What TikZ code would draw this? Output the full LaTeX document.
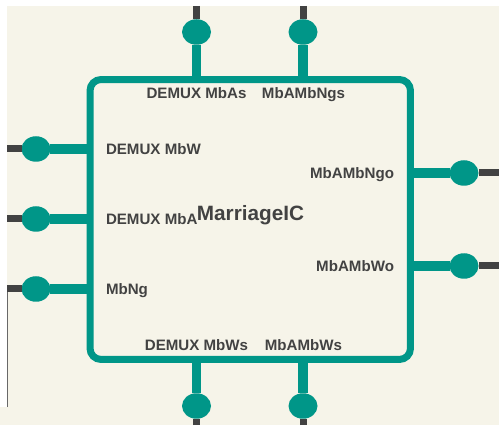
\documentclass[tikz,border=0pt]{standalone}
\usepackage{fontspec}
\setmainfont{Liberation Sans}
\usetikzlibrary{shapes.geometric}
\definecolor{paper}{HTML}{F6F4E9}
\definecolor{teal}{HTML}{009688}
\definecolor{wire}{HTML}{424242}
\tikzset{
  port/.style={ellipse, fill=teal, minimum width=0.58cm, minimum height=0.51cm, inner sep=0pt, outer sep=0pt},
  stub/.style={wire, line width=0.14cm},
  lead/.style={teal, line width=0.19cm},
  pin/.style={text=wire, font=\bfseries\fontsize{8.6}{10}\selectfont, text height=0.216cm, text depth=0pt, inner sep=0pt, outer sep=0pt}
}
\begin{document}
\begin{tikzpicture}[x=0.02cm,y=0.02cm]
\useasboundingbox (0,0) rectangle (499,425);
\fill[white] (0,0) rectangle (499,425);
\fill[paper] (7,0) rectangle (499,419);
\fill[paper] (0,0) rectangle (7,18);
\draw[wire!80, line width=0.02cm] (7,18) -- (7,136);

% the chip
\node[draw=teal, line width=0.14cm, rounded corners=0.22cm, minimum width=6.41cm, minimum height=5.6cm, inner sep=0pt] (chip) at (250.25,205.5) {};
\node[text=wire, font=\bfseries\fontsize{11.8}{14}\selectfont, text height=0.298cm, text depth=0pt, inner sep=0pt] (title) at (250.5,212) {MarriageIC};

% ports on top
\node[port] (pa) at (196.5,393) {};
\node[port] (pb) at (303,393) {};
\coordinate (pae) at (196.5,419);
\coordinate (pbe) at (303,419);
\coordinate (pac) at (196.5,345.5);
\coordinate (pbc) at (303,345.5);
\draw[stub] (pae) -- (pa);
\draw[stub] (pbe) -- (pb);
\draw[lead] (pa) -- (pac);
\draw[lead] (pb) -- (pbc);
\node[pin] (la) at (196.5,332) {DEMUX MbAs};
\node[pin] (lb) at (303.5,332) {MbAMbNgs};

% ports on the left
\node[port] (pc) at (36,276) {};
\node[port] (pd) at (36,206) {};
\node[port] (pe) at (36,136) {};
\coordinate (pce) at (7,276);
\coordinate (pde) at (7,206);
\coordinate (pee) at (7,136);
\coordinate (pcc) at (90,276);
\coordinate (pdc) at (90,206);
\coordinate (pec) at (90,136);
\draw[stub] (pce) -- (pc);
\draw[stub] (pde) -- (pd);
\draw[stub] (pee) -- (pe);
\draw[lead] (pc) -- (pcc);
\draw[lead] (pd) -- (pdc);
\draw[lead] (pe) -- (pec);
\node[pin, anchor=west] (lc) at (106,275.7) {DEMUX MbW};
\node[pin, anchor=west] (ld) at (106,205.7) {DEMUX MbA};
\node[pin, anchor=west] (le) at (106,135.5) {MbNg};

% ports on the right
\node[port] (pf) at (464,252) {};
\node[port] (pg) at (464,159) {};
\coordinate (pfe) at (499,252);
\coordinate (pge) at (499,159);
\coordinate (pfc) at (410.5,252);
\coordinate (pgc) at (410.5,159);
\draw[stub] (pfe) -- (pf);
\draw[stub] (pge) -- (pg);
\draw[lead] (pf) -- (pfc);
\draw[lead] (pg) -- (pgc);
\node[pin, anchor=east] (lf) at (394,252) {MbAMbNgo};
\node[pin, anchor=east] (lg) at (394,159) {MbAMbWo};

% ports on the bottom
\node[port] (ph) at (196.5,19) {};
\node[port] (pi) at (303,19) {};
\coordinate (phe) at (196.5,0);
\coordinate (pie) at (303,0);
\coordinate (phc) at (196.5,65.5);
\coordinate (pic) at (303,65.5);
\draw[stub] (phe) -- (ph);
\draw[stub] (pie) -- (pi);
\draw[lead] (ph) -- (phc);
\draw[lead] (pi) -- (pic);
\node[pin] (lh) at (196.5,79.7) {DEMUX MbWs};
\node[pin] (li) at (303.5,80) {MbAMbWs};
\end{tikzpicture}
\end{document}
